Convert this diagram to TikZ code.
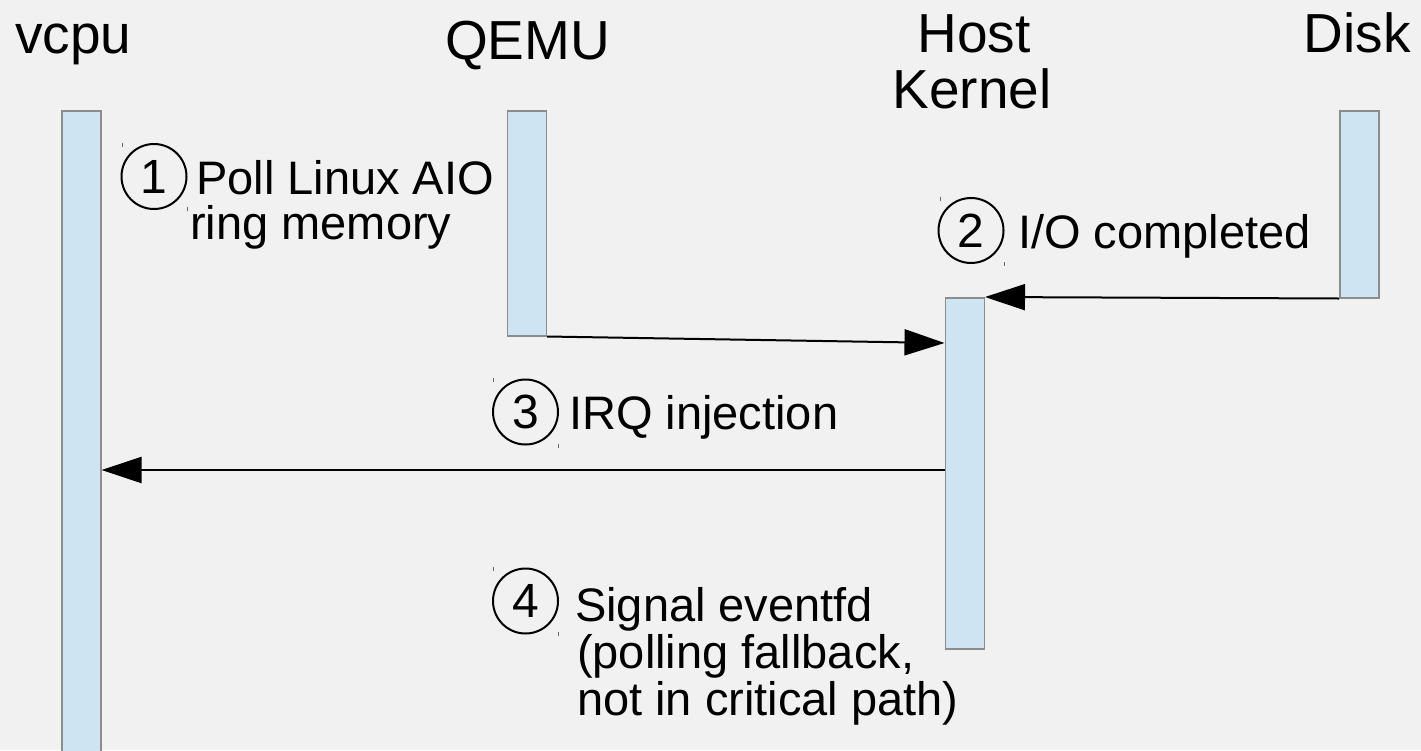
\documentclass[tikz,border=0pt]{standalone}
\usepackage{fontspec}
\setmainfont{Liberation Sans}
\usetikzlibrary{arrows.meta}
\definecolor{bg}{HTML}{F1F1F1}
\definecolor{barfill}{HTML}{CFE4F3}
\definecolor{barline}{HTML}{8C8C8C}
\begin{document}
\begin{tikzpicture}[x=1pt,y=-1pt,
  bar/.style={draw=barline,fill=barfill,line width=1.5pt,rectangle,anchor=north west,inner sep=0pt,minimum width=39pt},
  msg/.style={line width=2pt,-{Triangle[length=40pt,width=26pt]}},
  lbl/.style={anchor=base west,inner sep=0pt,font=\fontsize{47}{56}\selectfont},
  ttl/.style={anchor=base,inner sep=0pt,font=\fontsize{55}{60}\selectfont},
  num/.style={circle,draw,line width=2pt,minimum size=65pt,inner sep=0pt,font=\fontsize{48}{56}\selectfont},
  tickmark/.style={draw=black!60,line width=0.8pt}]
\useasboundingbox (0,0) rectangle (1421,750);
\fill[bg] (0,0) rectangle (1421,750);
% titles
\node[ttl] (tv) at (73.5,53) {vcpu};
\node[ttl] (tq) at (527.5,59) {QEMU};
\node[ttl] (th1) at (974,52) {Host};
\node[ttl] (th2) at (972,108) {Kernel};
\node[ttl,anchor=base east] (td) at (1411,52) {Disk};
% lifelines
\node[bar,minimum height=660pt] (vc) at (61,110) {};
\node[bar,minimum height=225pt] (qe) at (506.5,110) {};
\node[bar,minimum height=351pt] (hk) at (944.5,297) {};
\node[bar,minimum height=187pt] (dk) at (1339,110) {};
% messages
\coordinate (m1) at (944.5,343);
\coordinate (y3) at (0,470);
\draw[msg] (qe.south east) -- (m1);
\draw[msg] (dk.south west) -- (hk.north east);
\draw[msg] (hk.west |- y3) -- (vc.east |- y3);
% step 1
\node[num] (n1) at (154,176.5) {1};
\node[lbl] (l1a) at (196,194) {Poll Linux AIO};
\node[lbl] (l1b) at (190,239) {ring memory};
\draw[tickmark] (122,143) -- (122,147);
\draw[tickmark] (187,207) -- (187,211);
% step 2
\node[num] (n2) at (971,230.5) {2};
\node[lbl] (l2) at (1018,248) {I/O completed};
\draw[tickmark] (940,197) -- (940,201);
\draw[tickmark] (1004,262) -- (1004,266);
% step 3
\node[num] (n3) at (525.5,412) {3};
\node[lbl] (l3) at (569,429) {IRQ injection};
\draw[tickmark] (493,378) -- (493,382);
\draw[tickmark] (558,444) -- (558,448);
% step 4
\node[num] (n4) at (525.5,601) {4};
\node[lbl] (l4a) at (575,621) {Signal eventfd};
\node[lbl] (l4b) at (577,668) {(polling fallback,};
\node[lbl] (l4c) at (577,715) {not in critical path)};
\draw[tickmark] (493,567) -- (493,571);
\draw[tickmark] (558,632) -- (558,636);
\end{tikzpicture}
\end{document}
